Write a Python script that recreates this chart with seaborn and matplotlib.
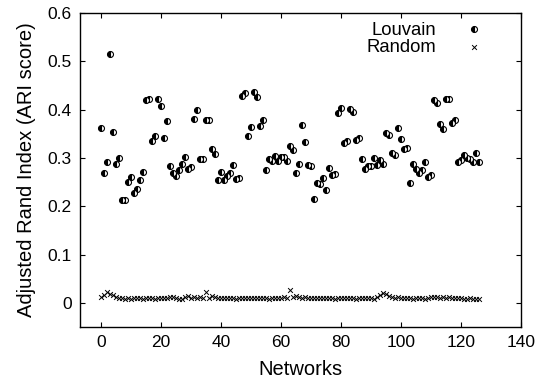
import numpy as np
import pandas as pd
import matplotlib
matplotlib.use("Agg")
import matplotlib.pyplot as plt
import seaborn as sns

# ARI scores, one per network (0..126)
louvain = [0.361, 0.268, 0.291, 0.516, 0.354, 0.287, 0.299, 0.212, 0.213, 0.250,
           0.260, 0.227, 0.235, 0.255, 0.270, 0.419, 0.422, 0.334, 0.346, 0.421,
           0.408, 0.342, 0.377, 0.283, 0.268, 0.262, 0.274, 0.288, 0.301, 0.277,
           0.282, 0.381, 0.399, 0.297, 0.297, 0.378, 0.378, 0.319, 0.308, 0.255,
           0.271, 0.254, 0.262, 0.268, 0.286, 0.257, 0.259, 0.429, 0.435, 0.345,
           0.364, 0.437, 0.427, 0.367, 0.379, 0.276, 0.297, 0.294, 0.305, 0.293,
           0.302, 0.302, 0.294, 0.324, 0.317, 0.269, 0.287, 0.368, 0.333, 0.285,
           0.283, 0.215, 0.248, 0.247, 0.259, 0.234, 0.279, 0.264, 0.267, 0.392,
           0.403, 0.330, 0.336, 0.401, 0.396, 0.338, 0.341, 0.298, 0.278, 0.283,
           0.284, 0.300, 0.286, 0.295, 0.288, 0.351, 0.348, 0.310, 0.307, 0.361,
           0.339, 0.318, 0.320, 0.248, 0.287, 0.277, 0.269, 0.276, 0.291, 0.261,
           0.265, 0.419, 0.413, 0.370, 0.360, 0.423, 0.423, 0.372, 0.378, 0.291,
           0.295, 0.306, 0.299, 0.298, 0.291, 0.310, 0.291]

random_ari = [0.013, 0.017, 0.022, 0.018, 0.016, 0.013, 0.011, 0.009, 0.008, 0.010,
              0.008, 0.009, 0.010, 0.009, 0.008, 0.010, 0.009, 0.010, 0.008, 0.009,
              0.010, 0.009, 0.010, 0.012, 0.013, 0.010, 0.007, 0.008, 0.012, 0.014,
              0.011, 0.013, 0.009, 0.012, 0.010, 0.023, 0.011, 0.014, 0.012, 0.010,
              0.011, 0.009, 0.010, 0.009, 0.010, 0.008, 0.009, 0.010, 0.009, 0.010,
              0.009, 0.010, 0.009, 0.010, 0.009, 0.010, 0.008, 0.009, 0.010, 0.009,
              0.010, 0.012, 0.010, 0.026, 0.012, 0.015, 0.013, 0.011, 0.013, 0.010,
              0.009, 0.010, 0.009, 0.010, 0.009, 0.010, 0.009, 0.010, 0.008, 0.009,
              0.011, 0.009, 0.010, 0.009, 0.010, 0.008, 0.009, 0.010, 0.009, 0.010,
              0.009, 0.008, 0.012, 0.017, 0.020, 0.019, 0.014, 0.012, 0.010, 0.013,
              0.011, 0.009, 0.010, 0.009, 0.008, 0.009, 0.010, 0.009, 0.008, 0.010,
              0.012, 0.013, 0.012, 0.011, 0.012, 0.011, 0.012, 0.010, 0.011, 0.009,
              0.010, 0.008, 0.007, 0.009, 0.008, 0.007, 0.008]

networks = list(range(len(louvain)))
x_ticks = [0, 20, 40, 60, 80, 100, 120, 140]
y_ticks = [0, 0.1, 0.2, 0.3, 0.4, 0.5, 0.6]

df = pd.DataFrame({"Networks": networks, "Louvain": louvain, "Random": random_ari})

sns.set_style("ticks")
plt.rcParams["font.family"] = ["Liberation Sans", "DejaVu Sans"]
plt.rcParams["text.color"] = "black"
plt.rcParams["axes.labelcolor"] = "black"

fig, ax = plt.subplots(figsize=(5.41, 3.80), dpi=100)
fig.subplots_adjust(left=80/541, right=521/541, top=1-13/380, bottom=1-327/380)

# half filled circles for Louvain
sns.lineplot(data=df, x="Networks", y="Louvain", ax=ax, color="black",
             linestyle="", marker="o", markersize=4.3, fillstyle="left",
             markerfacecolor="black", markerfacecoloralt="white",
             markeredgecolor="black", markeredgewidth=0.8,
             errorbar=None, label="Louvain")

# crosses for Random
sns.scatterplot(data=df, x="Networks", y="Random", ax=ax, color="black",
                marker="x", s=12, linewidth=0.7, label="Random")

ax.set_xlim(-7, 140)
ax.set_ylim(-0.05, 0.6)
ax.set_xticks(x_ticks)
ax.set_yticks(y_ticks)
ax.set_yticklabels([f"{t:g}" for t in y_ticks])
ax.tick_params(direction="in", length=3.5, width=0.8, top=True, right=True,
               labelsize=12.5, pad=6, colors="black")
for s in ax.spines.values():
    s.set_visible(True)
    s.set_linewidth(1.0)
    s.set_color("black")

ax.set_xlabel("Networks", fontsize=14.5, labelpad=7)
ax.set_ylabel("Adjusted Rand Index (ARI score)", fontsize=14.5, labelpad=8)

ax.legend(loc="upper right", bbox_to_anchor=(0.931, 0.994), frameon=False,
          markerfirst=False, fontsize=13.3, handlelength=1.0,
          handletextpad=1.55, labelspacing=0.0, borderaxespad=0,
          borderpad=0.4)

fig.savefig("out.png", dpi=100)
